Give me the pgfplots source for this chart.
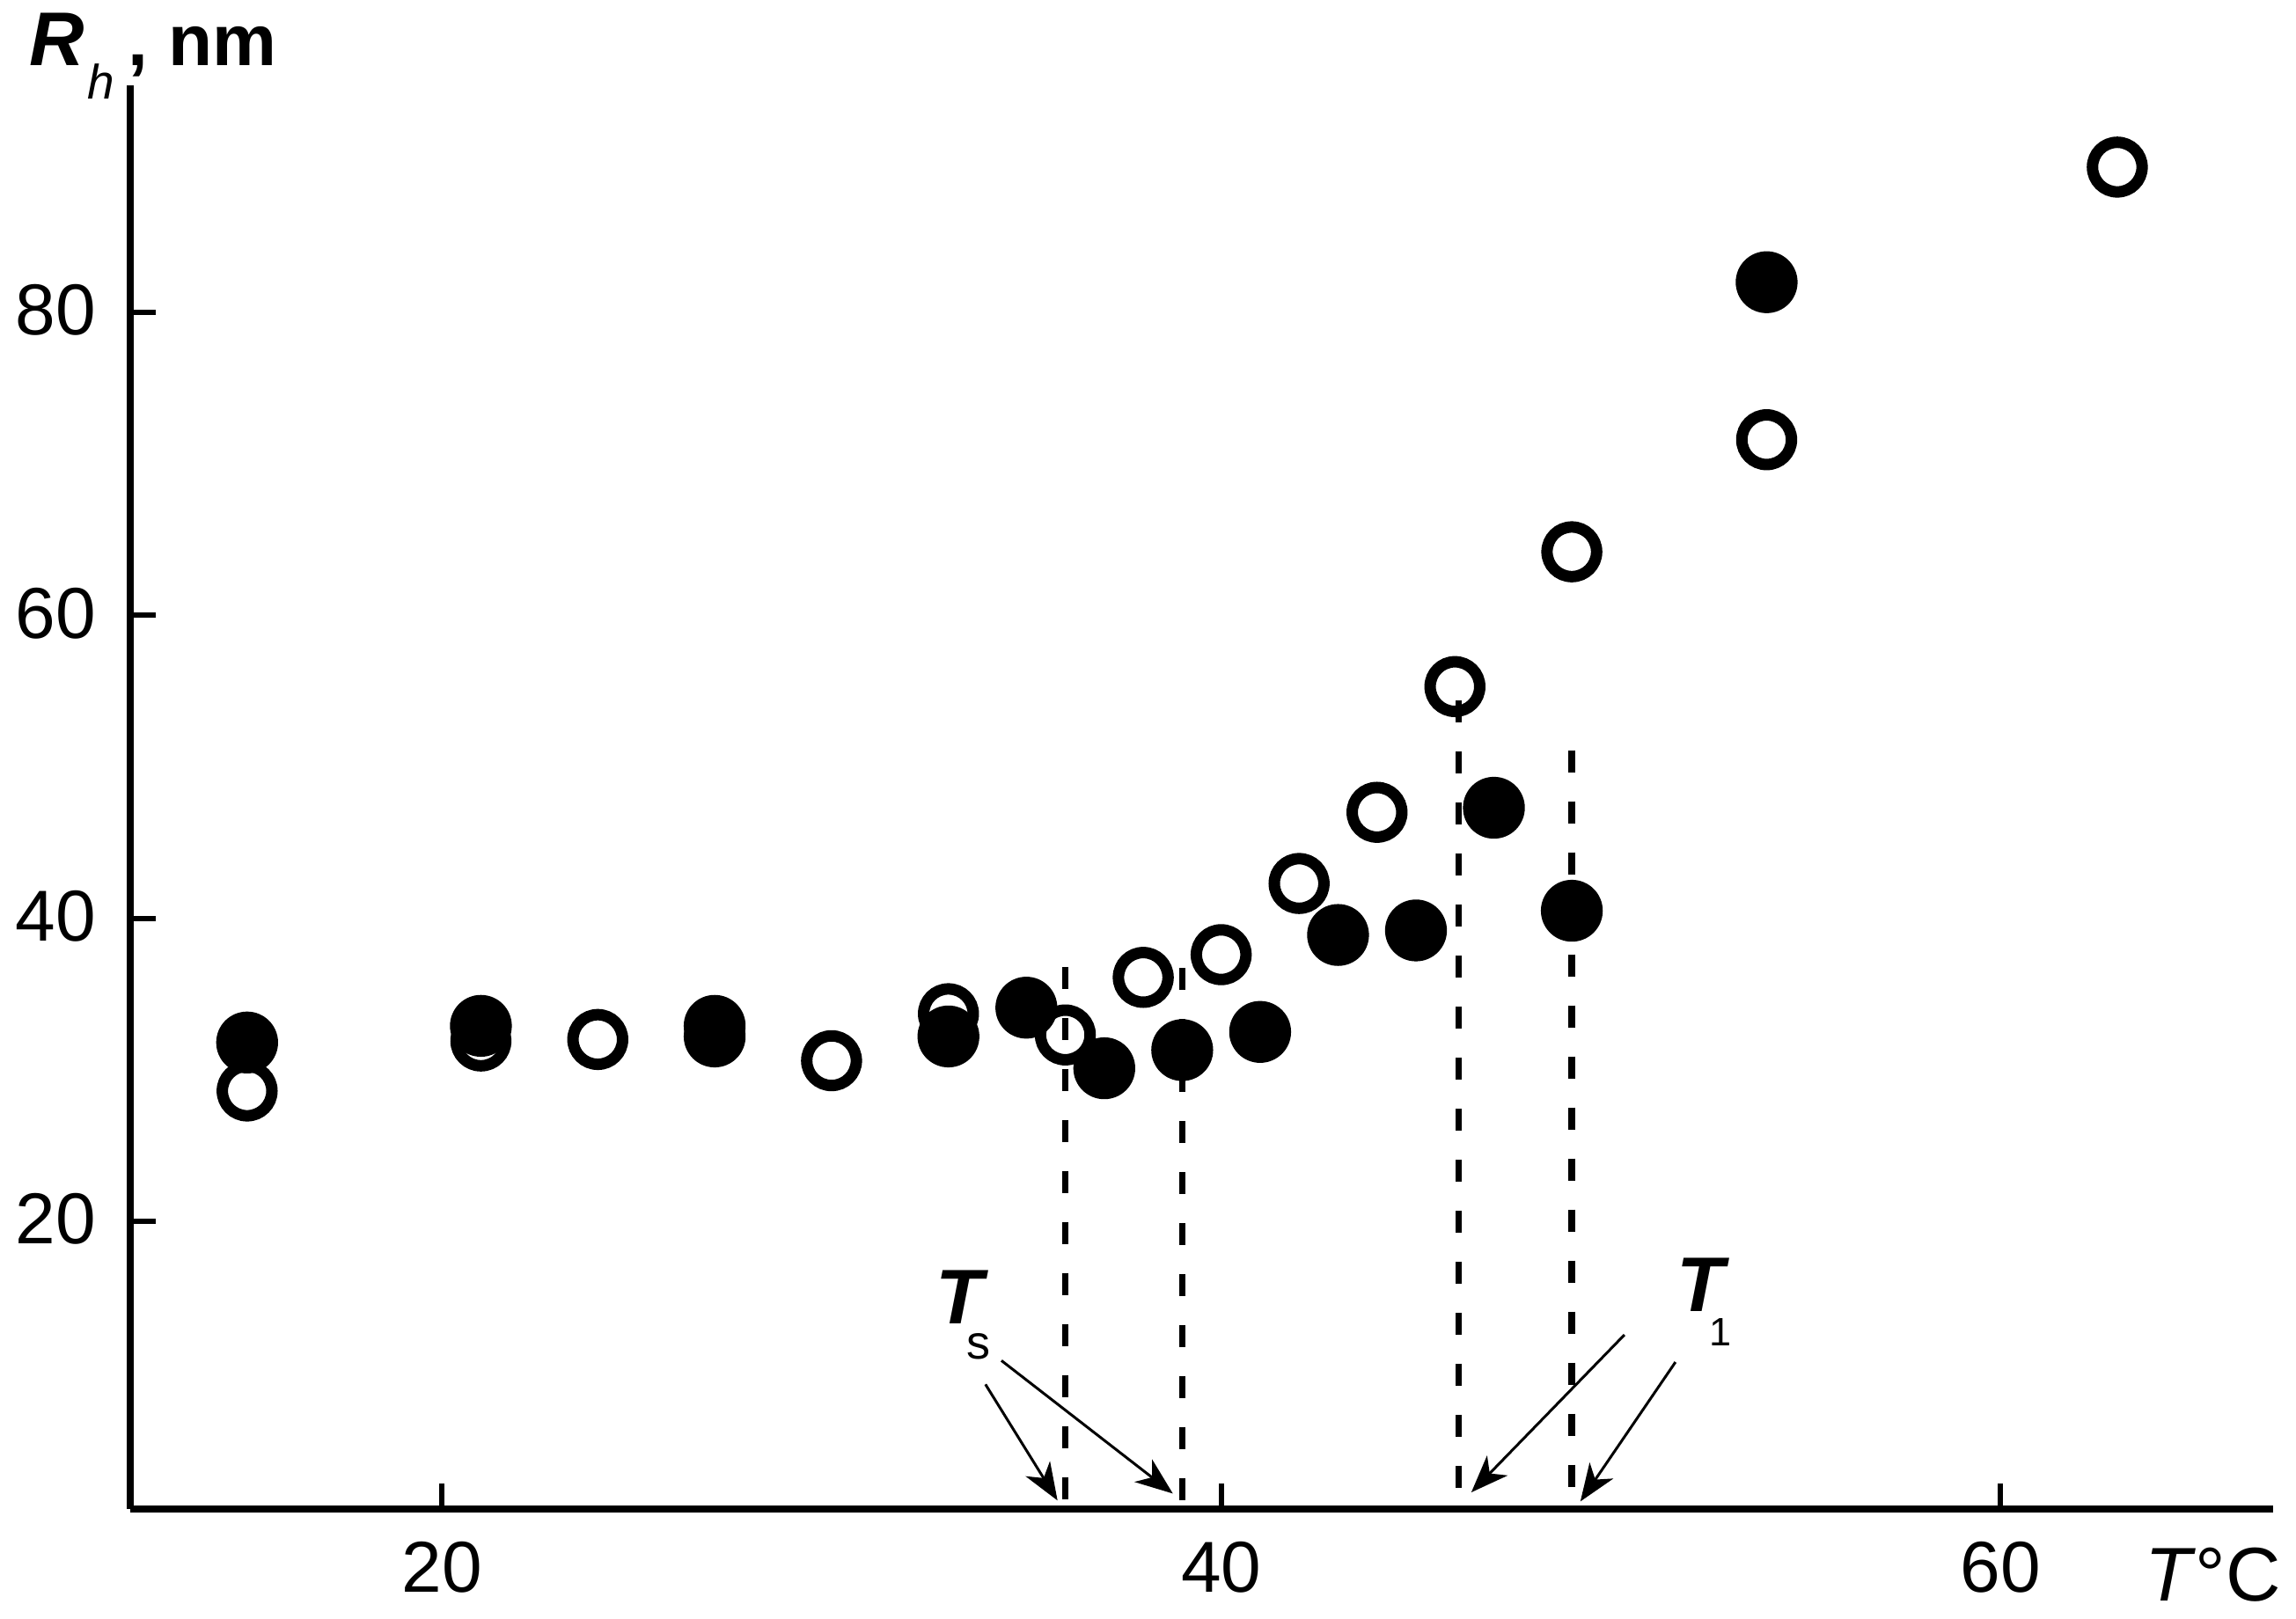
\documentclass[border=0pt]{standalone}
\usepackage{fontspec}
\setmainfont{Liberation Sans}
\usepackage{pgfplots}
\pgfplotsset{compat=1.18}
\usetikzlibrary{arrows.meta}
\begin{document}
\begin{tikzpicture}
\begin{axis}[name=ax,
  scale only axis, width=487pt, height=323.6pt,
  xmin=12, xmax=67, ymin=1, ymax=95,
  axis lines=left,
  axis line style={-, line width=1.5pt},
  xtick={20,40,60}, ytick={20,40,60,80},
  tick align=inside, major tick length=5.8pt,
  tick style={line width=1.2pt, black},
  /pgf/number format/assume math mode=true,
  tick label style={font=\fontsize{16.4}{18}\selectfont},
  xticklabel style={yshift=-3.9pt},
  yticklabel style={xshift=-4.3pt, yshift=0.5pt},
  clip=false,
]
% dashed guide lines
\addplot[black, line width=1.5pt, dash pattern=on 5pt off 6.6pt] coordinates {(36,36.8) (36,1.5)};
\addplot[black, line width=1.5pt, dash pattern=on 5pt off 6.6pt] coordinates {(39,36.7) (39,1.5)};
\addplot[black, line width=1.5pt, dash pattern=on 5pt off 6.6pt] coordinates {(46.1,54.4) (46.1,1.5)};
\addplot[black, line width=1.5pt, dash pattern=on 5pt off 6.6pt] coordinates {(49,51.1) (49,1.5)};
% open circles
\addplot[only marks, mark=o, mark size=5.64pt, mark options={line width=2.6pt, black, fill=none}] coordinates {
(15,28.6) (21,31.9) (24,32.0) (30,30.6) (33,33.7) (36,32.3) (38,36.1) (40,37.6)
(42,42.3) (44,47.0) (46,55.3) (49,64.2) (54,71.6) (63,89.6)};
% filled circles
\addplot[only marks, mark=*, mark size=6.83pt, mark options={draw=none, fill=black}] coordinates {
(15,31.8) (21,32.9) (27,32.9) (27,32.2) (33,32.2) (35,34.1) (37,30.1) (39,31.3)
(41,32.5) (43,38.9) (45,39.2) (47,47.3) (49,40.5) (54,82.0)};
% arrows
\draw[line width=0.6pt, -{Stealth[length=8.5pt, width=6.5pt, inset=2.5pt]}] (axis cs:33.95,9.23) -- (axis cs:35.80,1.56);
\draw[line width=0.6pt, -{Stealth[length=8.5pt, width=6.5pt, inset=2.5pt]}] (axis cs:34.36,10.8) -- (axis cs:38.76,2.02);
\draw[line width=0.6pt, -{Stealth[length=8.5pt, width=6.5pt, inset=2.5pt]}] (axis cs:50.35,12.5) -- (axis cs:46.42,2.1);
\draw[line width=0.6pt, -{Stealth[length=8.5pt, width=6.5pt, inset=2.5pt]}] (axis cs:51.66,10.7) -- (axis cs:49.22,1.5);
% labels
\node[anchor=base west, inner sep=0pt] at (axis cs:32.66,13.2)
  {\rlap{\fontsize{17.6}{20}\selectfont\bfseries\itshape T}\hspace{7pt}\raisebox{-8pt}{\fontsize{10.8}{12}\selectfont s}};
\node[anchor=base west, inner sep=0pt] at (axis cs:51.68,14.05)
  {\rlap{\fontsize{17.6}{20}\selectfont\bfseries\itshape T}\hspace{7.4pt}\raisebox{-7.8pt}{\fontsize{9}{10}\selectfont 1}};
\node[anchor=base west, inner sep=0pt] at ([shift={(-23pt,4.4pt)}]axis description cs:0,1)
  {{\fontsize{17.3}{20}\selectfont\bfseries\itshape R}\hspace{0.6pt}\raisebox{-7.6pt}{\fontsize{11}{12}\selectfont\itshape h}\hspace{3pt}{\fontsize{16.4}{20}\selectfont\bfseries ,\hspace{4.7pt}nm}};
\node[anchor=base east, inner sep=0pt, font=\fontsize{17.3}{20}\selectfont] at ([shift={(2pt,-21pt)}]axis description cs:1,0) {\textit{T}°C};
\end{axis}
\pgfresetboundingbox
\path[use as bounding box] ([shift={(-29.6pt,-25pt)}]ax.south west) rectangle ([shift={(5.2pt,19.4pt)}]ax.north east);
\end{tikzpicture}
\end{document}
